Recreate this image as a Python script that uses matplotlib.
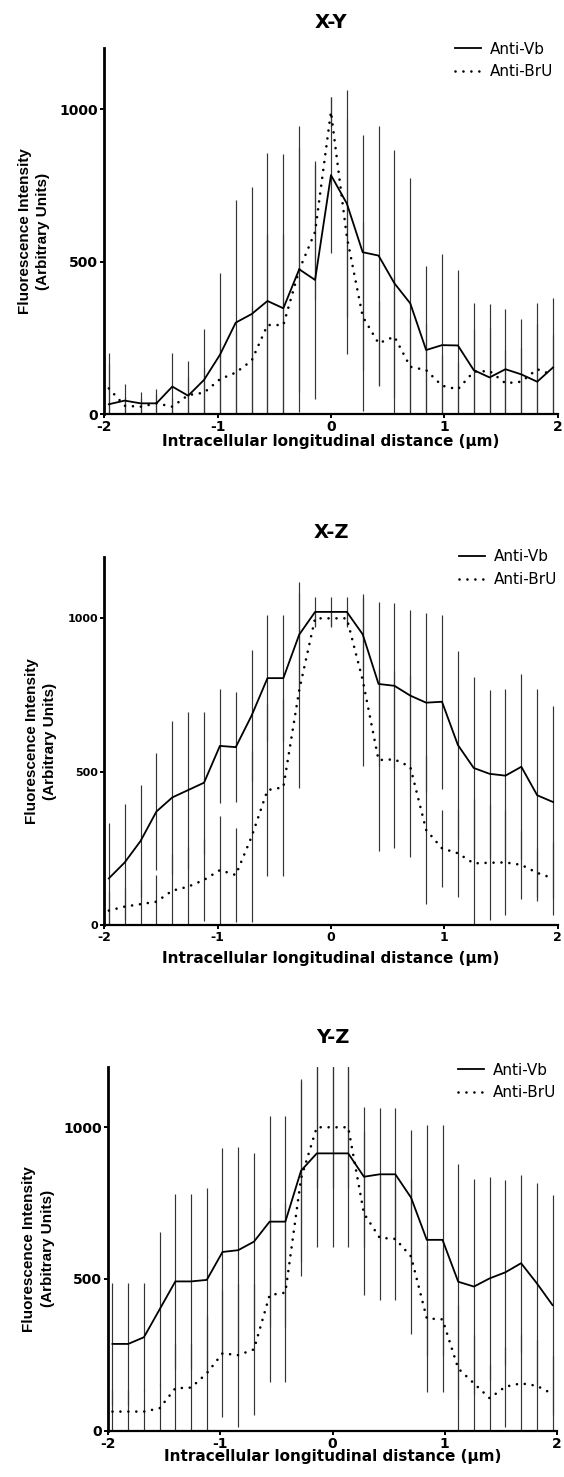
import matplotlib.pyplot as plt

plt.rcParams['font.family'] = 'DejaVu Sans'
plt.rcParams['axes.unicode_minus'] = False

# positions along the cell (um)
x_um = [-1.96, -1.82, -1.68, -1.54, -1.40, -1.26, -1.12, -0.98, -0.84, -0.70,
        -0.56, -0.42, -0.28, -0.14, 0.00, 0.14, 0.28, 0.42, 0.56, 0.70,
        0.84, 0.98, 1.12, 1.26, 1.40, 1.54, 1.68, 1.82, 1.96]

# X-Y profile
xy_vb = [32, 44, 35, 35, 90, 60, 112, 194, 300, 328, 371, 347, 475, 440, 784,
         691, 531, 520, 429, 363, 210, 226, 225, 144, 120, 147, 130, 106, 153]
xy_vb_sd = [167, 54, 38, 47, 109, 114, 167, 268, 402, 418, 485, 505, 470, 390, 257,
            372, 385, 425, 438, 410, 276, 298, 248, 219, 240, 197, 181, 257, 229]
xy_bru = [84, 27, 24, 35, 24, 62, 70, 114, 136, 175, 292, 292, 473, 598, 992,
          582, 320, 232, 254, 155, 144, 93, 81, 139, 141, 101, 106, 147, 128]
xy_bru_sd = [80, 30, 30, 30, 30, 60, 80, 120, 140, 180, 300, 300, 400, 220, 50,
             385, 309, 140, 200, 160, 150, 100, 90, 140, 140, 110, 110, 150, 130]

# X-Z profile
xz_vb = [152, 204, 274, 370, 416, 440, 464, 584, 580, 683, 805, 805, 947, 1021, 1021,
         1021, 948, 786, 780, 748, 725, 728, 587, 512, 493, 487, 516, 423, 401]
xz_vb_sd = [180, 189, 183, 192, 249, 256, 232, 186, 179, 214, 206, 206, 173, 50, 50,
            50, 117, 268, 269, 279, 291, 283, 306, 298, 273, 281, 301, 345, 312]
xz_bru = [47, 60, 68, 76, 112, 125, 147, 179, 163, 288, 440, 449, 766, 1000, 1000,
          1000, 799, 538, 540, 516, 310, 250, 234, 201, 203, 204, 196, 170, 152]
xz_bru_sd = [60, 60, 80, 87, 120, 130, 133, 176, 154, 279, 280, 289, 318, 25, 25,
             25, 280, 297, 288, 295, 242, 125, 144, 210, 187, 171, 111, 80, 119]

# Y-Z profile
yz_vb = [286, 286, 308, 400, 492, 492, 497, 589, 595, 623, 689, 689, 857, 914, 914,
         914, 837, 845, 845, 768, 629, 629, 491, 475, 502, 522, 552, 486, 414]
yz_vb_sd = [200, 200, 178, 254, 288, 288, 302, 344, 339, 291, 348, 348, 301, 307, 307,
            307, 231, 218, 218, 223, 379, 379, 387, 354, 335, 304, 291, 332, 363]
yz_bru = [63, 63, 63, 74, 140, 142, 189, 255, 249, 268, 447, 455, 832, 1000, 1000,
          1000, 716, 636, 632, 574, 370, 367, 205, 156, 107, 145, 156, 148, 121]
yz_bru_sd = [70, 70, 70, 80, 145, 145, 190, 209, 236, 215, 286, 294, 322, 200, 200,
             200, 269, 205, 201, 256, 243, 240, 210, 160, 110, 132, 160, 150, 125]

titles = ['X-Y', 'X-Z', 'Y-Z']
x_ticks = [-2, -1, 0, 1, 2]
y_ticks = [0, 500, 1000]
xlabel = 'Intracellular longitudinal distance (\u03bcm)'
ylabel = 'Fluorescence Intensity\n(Arbitrary Units)'

W, H = 564, 1477


def px_box(left, right, top, bottom):
    return [left / W, 1 - bottom / H, (right - left) / W, (bottom - top) / H]


def draw_panel(ax, title, vb, vb_sd, bru, bru_sd, ytick_size, xtick_size,
               title_pad, leg_xy, ylab_x, xlab_y):
    ax.errorbar(x_um, vb, yerr=vb_sd, fmt='none', ecolor='#333333',
                elinewidth=0.85, capsize=0)
    ax.errorbar(x_um, bru, yerr=bru_sd, fmt='none', ecolor='#333333',
                elinewidth=0.85, capsize=0)
    ax.plot(x_um, vb, color='black', lw=1.3, label='Anti-Vb')
    ax.plot(x_um, bru, color='black', lw=1.9, linestyle=(0, (0.01, 3.0)),
            dash_capstyle='round', label='Anti-BrU')

    ax.set_xlim(-2, 2)
    ax.set_ylim(0, 1200)
    ax.set_xticks(x_ticks)
    ax.set_yticks(y_ticks)
    ax.spines['top'].set_visible(False)
    ax.spines['right'].set_visible(False)
    ax.spines['left'].set_linewidth(2.0)
    ax.spines['bottom'].set_linewidth(1.6)
    ax.tick_params(axis='both', direction='out', length=3, width=1.4, pad=1.5)
    ax.tick_params(axis='y', labelsize=ytick_size)
    ax.tick_params(axis='x', labelsize=xtick_size)
    for lab in ax.get_xticklabels() + ax.get_yticklabels():
        lab.set_fontweight('bold')

    ax.set_title(title, fontsize=14, fontweight='bold', pad=title_pad)
    ax.set_xlabel(xlabel, fontsize=11, fontweight='bold', va='center')
    ax.xaxis.set_label_coords(0.5, xlab_y)
    ax.set_ylabel(ylabel, fontsize=11, fontweight='bold', family='Liberation Sans',
                  ha='center', va='center', linespacing=1.4)
    ax.yaxis.set_label_coords(ylab_x, 0.5)

    ax.legend(loc='center left', bbox_to_anchor=leg_xy, frameon=False,
              fontsize=11, borderpad=0, borderaxespad=0, handlelength=1.7,
              handletextpad=0.6, labelspacing=0.5)


fig = plt.figure(figsize=(W / 100, H / 100), dpi=100)

ax1 = fig.add_axes(px_box(104.3, 557.6, 48.4, 414))
draw_panel(ax1, titles[0], xy_vb, xy_vb_sd, xy_bru, xy_bru_sd, 10, 10,
           15, (0.774, 0.967), -0.155, -27.7 / 365.6)

ax2 = fig.add_axes(px_box(104.3, 557.6, 557, 925))
draw_panel(ax2, titles[1], xz_vb, xz_vb_sd, xz_bru, xz_bru_sd, 8, 9,
           14, (0.782, 0.970), -0.14, -33 / 368)

ax3 = fig.add_axes(px_box(108, 557, 1066.6, 1430.7))
draw_panel(ax3, titles[2], yz_vb, yz_vb_sd, yz_bru, yz_bru_sd, 10, 10,
           17, (0.779, 0.959), -0.155, -26 / 364.1)

fig.savefig('out.png', dpi=100)
